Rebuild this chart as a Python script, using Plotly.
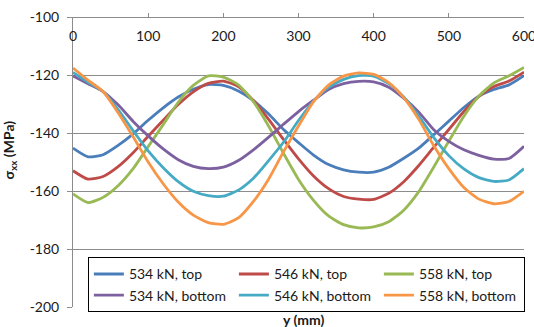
import plotly.graph_objects as go

# Position along the member (mm)
y_mm = list(range(0, 601, 20))

# Longitudinal stress sigma_xx (MPa) for each load level, top and bottom fibre
s534_top = [-145.2, -148.2, -147.5, -144.3, -140.3, -135.6, -131.3, -127.6, -124.9, -123.3,
            -123.6, -125.5, -128.8, -133.4, -138.8, -143.3, -147.6, -150.9, -152.7, -153.5,
            -153.5, -151.8, -148.7, -145.2, -140.6, -135.9, -131.2, -127.3, -125.0, -123.4, -120.2]
s546_top = [-153.0, -155.9, -155.0, -151.6, -146.8, -141.1, -135.6, -130.2, -125.8, -122.9,
            -122.1, -124.0, -128.8, -135.2, -142.2, -148.9, -154.8, -159.2, -161.9, -162.8,
            -162.9, -160.8, -156.8, -151.2, -144.9, -138.8, -132.6, -127.4, -124.0, -122.1, -119.0]
s558_top = [-161.0, -164.0, -162.2, -158.2, -152.3, -144.7, -137.1, -129.4, -123.6, -120.3,
            -120.7, -123.4, -129.2, -137.5, -147.0, -156.0, -163.2, -168.6, -171.6, -172.7,
            -172.4, -170.6, -166.6, -160.2, -151.7, -142.8, -134.2, -127.3, -122.7, -120.3, -117.4]
s534_bot = [-120.3, -123.0, -125.7, -130.3, -136.0, -141.0, -145.5, -149.2, -151.5, -152.3,
            -151.8, -149.5, -145.8, -141.5, -137.0, -132.6, -128.7, -125.0, -123.0, -122.2,
            -122.4, -124.2, -128.0, -132.8, -138.9, -142.9, -145.8, -147.7, -149.0, -148.8, -144.6]
s546_bot = [-119.1, -122.5, -125.7, -131.9, -139.2, -146.2, -152.0, -156.8, -160.1, -161.6,
            -161.8, -159.7, -155.6, -149.6, -143.2, -135.7, -129.0, -124.3, -121.5, -120.2,
            -120.4, -123.0, -127.6, -134.2, -141.6, -147.8, -152.4, -155.4, -156.7, -156.2, -152.3]
s558_bot = [-117.6, -121.8, -125.7, -133.0, -141.3, -150.0, -157.5, -163.8, -168.3, -170.9,
            -171.5, -169.3, -163.6, -156.0, -146.5, -137.6, -129.2, -123.5, -120.4, -119.3,
            -119.8, -122.6, -127.8, -135.3, -144.4, -152.3, -158.8, -162.8, -164.4, -163.6, -160.1]

series_names = ["534 kN, top", "546 kN, top", "558 kN, top",
                "534 kN, bottom", "546 kN, bottom", "558 kN, bottom"]
series_values = [s534_top, s546_top, s558_top, s534_bot, s546_bot, s558_bot]
colors = ["#4A7EBB", "#BE4B48", "#98B954", "#7D60A0", "#46AAC5", "#F79646"]

x_ticks = [0, 100, 200, 300, 400, 500, 600]
y_ticks = [-200, -180, -160, -140, -120, -100]

font_family = "Lato, Open Sans, Liberation Sans, sans-serif"
text_col = "#1a1a1a"
grid_col = "#8C8C8C"

fig = go.Figure()
for name, vals, col in zip(series_names, series_values, colors):
    fig.add_trace(go.Scatter(
        x=y_mm, y=vals, name=name, mode="lines",
        line=dict(color=col, width=2.8, shape="spline", smoothing=0.6),
    ))

fig.update_layout(
    width=534, height=327,
    margin=dict(l=73, r=10, t=17, b=20, autoexpand=False),
    paper_bgcolor="white", plot_bgcolor="white",
    font=dict(family=font_family, size=14, color=text_col),
    showlegend=True,
    legend=dict(
        orientation="h",
        x=0.033, xanchor="left",
        y=0.171, yanchor="top",
        bgcolor="white", bordercolor="black", borderwidth=1,
        entrywidth=100, entrywidthmode="pixels",
        font=dict(size=14, family=font_family, color=text_col),
        tracegroupgap=0,
    ),
    # the x axis sits along the top edge, labels hanging below its line
    xaxis=dict(
        range=[0, 600], tickvals=x_ticks, ticktext=[str(v) for v in x_ticks],
        anchor="free", position=1, side="bottom",
        ticks="inside", ticklen=4, tickcolor=grid_col,
        showline=True, mirror=True, linecolor=grid_col, linewidth=1,
        showgrid=False, zeroline=False,
        ticklabelstandoff=6, ticklabeloverflow="allow", automargin=False,
    ),
    yaxis=dict(
        range=[-200, -100], tickvals=y_ticks, ticktext=[str(v) for v in y_ticks],
        ticks="outside", ticklen=5, tickcolor=grid_col,
        showline=True, linecolor=grid_col, linewidth=1,
        showgrid=True, gridcolor=grid_col, gridwidth=1, zeroline=False,
        ticklabelstandoff=5, ticklabeloverflow="allow", automargin=False,
    ),
    annotations=[
        dict(text="<b>y (mm)</b>", xref="paper", yref="paper", x=0.51, y=-0.043,
             xanchor="center", yanchor="middle", showarrow=False,
             font=dict(size=14, family=font_family, color=text_col)),
        dict(text="<b>σ<sub>xx</sub> (MPa)</b>", xref="paper", yref="paper",
             x=-0.14, y=0.543, xanchor="center", yanchor="middle", textangle=-90,
             showarrow=False, font=dict(size=14, family=font_family, color=text_col)),
    ],
)

fig.write_html("out.html")
